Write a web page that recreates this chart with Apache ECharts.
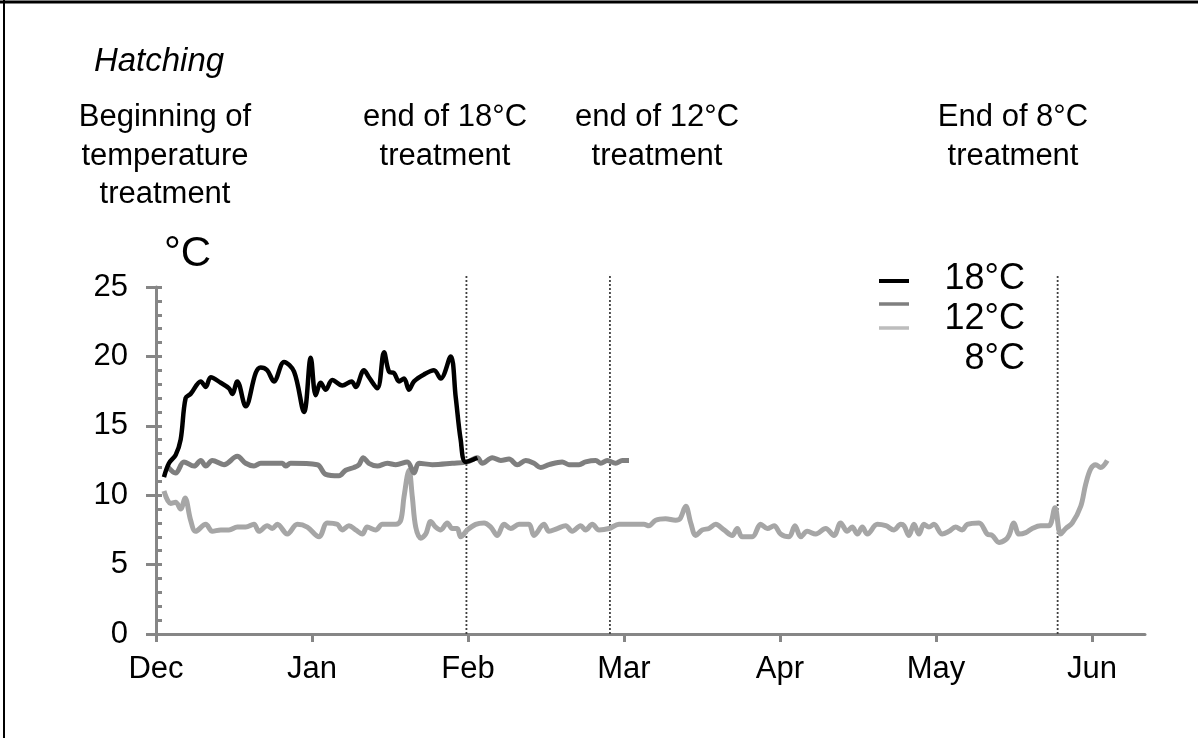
<!DOCTYPE html>
<html>
<head>
<meta charset="utf-8">
<script src="https://cdn.jsdelivr.net/npm/echarts@6/dist/echarts.min.js"></script>
<style>
html,body{margin:0;padding:0;background:#fff;}
#chart{width:1198px;height:738px;}
</style>
</head>
<body>
<div id="chart"></div>
<script>
// X positions are in months since 1 Dec (Dec = 0, Jan = 1, ...).
const monthLabels = ['Dec', 'Jan', 'Feb', 'Mar', 'Apr', 'May', 'Jun'];
const yTicks = [0, 5, 10, 15, 20, 25];

const x18 = [0.051,0.083,0.126,0.158,0.19,0.222,0.287,0.319,0.351,0.415,0.468,0.489,0.521,0.575,0.639,0.671,0.713,0.756,0.821,0.885,0.949,0.992,1.024,1.056,1.088,1.130,1.194,1.254,1.280,1.333,1.365,1.419,1.462,1.494,1.526,1.558,1.590,1.622,1.654,1.718,1.782,1.825,1.889,1.921,1.953,1.985,2.060];
const t18 = [11.3,12.3,12.9,14.0,17.0,17.3,18.2,17.8,18.5,18.1,17.7,17.3,18.2,16.4,18.8,19.2,19.0,18.2,19.6,18.9,16.0,19.9,17.2,18.1,17.6,18.3,17.9,18.2,17.8,19.0,18.5,17.7,20.3,18.9,18.8,18.2,18.4,17.6,18.2,18.7,19.0,18.4,20.0,17.1,14.0,12.4,12.7];

const x12 = [0.072,0.126,0.179,0.244,0.287,0.319,0.361,0.436,0.521,0.575,0.628,0.671,0.810,0.831,0.863,1.034,1.088,1.173,1.216,1.269,1.301,1.329,1.365,1.419,1.483,1.537,1.611,1.654,1.686,1.771,1.899,1.996,2.060,2.092,2.156,2.210,2.263,2.316,2.370,2.423,2.466,2.519,2.604,2.647,2.712,2.754,2.819,2.851,2.893,2.947,2.989,3.032];
const t12 = [12.1,11.6,12.4,12.1,12.5,12.1,12.5,12.2,12.8,12.3,12.1,12.3,12.3,12.1,12.3,12.2,11.5,11.4,11.8,12.0,12.2,12.7,12.3,12.1,12.3,12.2,12.4,11.6,12.3,12.2,12.3,12.4,12.7,12.3,12.7,12.5,12.6,12.2,12.5,12.3,12.0,12.2,12.4,12.2,12.2,12.4,12.5,12.3,12.5,12.3,12.5,12.5];

const x8 = [0.051,0.094,0.126,0.158,0.186,0.222,0.254,0.319,0.361,0.415,0.468,0.521,0.575,0.628,0.660,0.713,0.746,0.778,0.842,0.906,0.970,1.045,1.098,1.162,1.194,1.237,1.280,1.322,1.354,1.408,1.451,1.537,1.569,1.590,1.622,1.643,1.665,1.697,1.729,1.761,1.793,1.825,1.867,1.899,1.931,1.953,1.996,2.049,2.103,2.146,2.188,2.231,2.274,2.327,2.391,2.423,2.487,2.519,2.572,2.626,2.668,2.722,2.754,2.797,2.840,2.904,2.968,3.128,3.160,3.203,3.267,3.331,3.359,3.396,3.428,3.460,3.502,3.545,3.588,3.641,3.694,3.726,3.758,3.822,3.876,3.919,3.962,4.004,4.058,4.096,4.133,4.175,4.229,4.293,4.346,4.389,4.431,4.463,4.496,4.528,4.560,4.624,4.678,4.731,4.774,4.795,4.827,4.859,4.891,4.923,4.955,4.987,5.040,5.083,5.126,5.168,5.201,5.276,5.329,5.361,5.404,5.447,5.468,5.500,5.532,5.575,5.617,5.671,5.724,5.763,5.799,5.832,5.874,5.928,5.960,5.992,6.024,6.056,6.098];
const t8 = [10.3,9.4,9.5,9.0,9.8,8.2,7.4,7.9,7.4,7.5,7.5,7.7,7.7,7.9,7.4,7.8,7.6,7.9,7.2,7.9,7.7,7.0,8.0,7.9,7.5,7.8,7.5,7.2,7.7,7.5,7.9,7.9,8.2,9.9,11.8,9.9,7.7,6.9,7.2,8.1,7.7,7.5,8.0,7.6,7.6,7.0,7.5,7.9,8.0,7.7,7.1,7.9,7.6,7.9,7.9,7.1,7.9,7.4,7.6,7.8,7.4,7.8,7.5,7.9,7.5,7.6,7.9,7.9,7.8,8.2,8.3,8.2,8.3,9.2,8.0,7.1,7.5,7.6,7.9,7.5,7.1,7.6,7.0,7.0,7.9,7.6,7.8,7.2,7.0,7.8,7.0,7.4,7.2,7.6,7.1,8.0,7.4,7.7,7.2,7.7,7.2,7.9,7.8,7.5,7.9,7.8,7.1,7.9,7.2,7.9,7.7,7.9,7.2,7.4,7.7,7.5,7.9,8.0,7.2,7.1,6.6,6.8,7.1,8.0,7.2,7.3,7.6,7.8,7.8,9.1,7.2,7.6,8.0,9.2,10.8,11.9,12.2,12.0,12.5];

// Treatment events (months since 1 Dec)
const eventMonths = [1.99, 2.91, 5.78];

const seriesNames = ['18°C', '12°C', '8°C'];
const FONT = "'Liberation Sans', Arial, sans-serif";

function zip(xs, ys) { return xs.map((x, i) => [x, ys[i]]); }

const chart = echarts.init(document.getElementById('chart'), null, {renderer: 'canvas'});

const dotted = eventMonths.map(m => ({
  type: 'line', xAxisIndex: 0, yAxisIndex: 0, clip: false, silent: true,
  showSymbol: false, symbol: 'none', z: 1,
  data: [[m, 0], [m, 25.8]],
  lineStyle: {color: '#404040', width: 1.8, type: [2, 2]}
}));

const axisGray = '#868686';
const tickIdx = monthLabels.map((_, i) => i);

const option = {
  animation: false,
  backgroundColor: '#ffffff',
  grid: {left: 156, right: 53, top: 287, bottom: 104, containLabel: false, outerBoundsMode: 'none'},
  xAxis: {
    type: 'value', min: 0, max: 6.34, interval: 1,
    axisLine: {show: true, lineStyle: {color: axisGray, width: 3}},
    axisTick: {show: true, length: 8, inside: false, lineStyle: {color: axisGray, width: 3}, customValues: tickIdx},
    axisLabel: {
      color: '#000', fontFamily: FONT, fontSize: 31, margin: 20,
      customValues: tickIdx,
      formatter: v => (Math.abs(v - Math.round(v)) < 1e-6 && monthLabels[Math.round(v)]) ? monthLabels[Math.round(v)] : ''
    },
    splitLine: {show: false}
  },
  yAxis: [{
    type: 'value', min: 0, max: 25, interval: 5, position: 'left',
    axisLine: {show: true, onZero: false, lineStyle: {color: axisGray, width: 3}},
    axisTick: {show: true, length: 10, inside: false, lineStyle: {color: axisGray, width: 3}},
    axisLabel: {color: '#000', fontFamily: FONT, fontSize: 31, margin: 28,
      formatter: v => yTicks.indexOf(v) >= 0 ? String(v) : ''},
    splitLine: {show: false}
  }, {
    type: 'value', min: 0, max: 25, interval: 5, position: 'left', offset: 0,
    axisLine: {show: false},
    axisTick: {show: true, length: 6, inside: true, lineStyle: {color: axisGray, width: 3}},
    minorTick: {show: true, splitNumber: 5, length: 6, lineStyle: {color: axisGray, width: 3}},
    axisLabel: {show: false},
    splitLine: {show: false}
  }],
  series: [
    ...dotted,
    {name: seriesNames[2], type: 'line', data: zip(x8, t8), showSymbol: false, smooth: 0.35, z: 3,
     lineStyle: {color: '#a6a6a6', width: 5}},
    {name: seriesNames[1], type: 'line', data: zip(x12, t12), showSymbol: false, smooth: 0.35, z: 4,
     lineStyle: {color: '#7f7f7f', width: 5}},
    {name: seriesNames[0], type: 'line', data: zip(x18, t18), showSymbol: false, smooth: 0.35, z: 5,
     lineStyle: {color: '#000000', width: 4.5}}
  ],
  graphic: [
    // border (top and left)
    {type: 'line', shape: {x1: 0, y1: 2, x2: 1198, y2: 2}, style: {stroke: '#000', lineWidth: 3}},
    {type: 'line', shape: {x1: 4, y1: 0, x2: 4, y2: 738}, style: {stroke: '#000', lineWidth: 2}},
    // annotations
    {type: 'text', x: 159, y: 62, style: {text: 'Hatching', font: 'italic 33px ' + FONT, fill: '#000', align: 'center', verticalAlign: 'middle'}},
    {type: 'text', x: 165, y: 156, style: {text: 'Beginning of\ntemperature\ntreatment', font: '31px ' + FONT, fill: '#000', align: 'center', verticalAlign: 'middle', lineHeight: 38.5}},
    {type: 'text', x: 445, y: 137, style: {text: 'end of 18°C\ntreatment', font: '31px ' + FONT, fill: '#000', align: 'center', verticalAlign: 'middle', lineHeight: 38.5}},
    {type: 'text', x: 657, y: 137, style: {text: 'end of 12°C\ntreatment', font: '31px ' + FONT, fill: '#000', align: 'center', verticalAlign: 'middle', lineHeight: 38.5}},
    {type: 'text', x: 1013, y: 137, style: {text: 'End of 8°C\ntreatment', font: '31px ' + FONT, fill: '#000', align: 'center', verticalAlign: 'middle', lineHeight: 38.5}},
    {type: 'text', x: 164, y: 254, style: {text: '°C', font: '42px ' + FONT, fill: '#000', align: 'left', verticalAlign: 'middle'}},
    // legend
    {type: 'line', shape: {x1: 879, y1: 281, x2: 909, y2: 281}, style: {stroke: '#000', lineWidth: 4}},
    {type: 'line', shape: {x1: 879, y1: 304, x2: 909, y2: 304}, style: {stroke: '#7f7f7f', lineWidth: 3.5}},
    {type: 'line', shape: {x1: 879, y1: 328, x2: 909, y2: 328}, style: {stroke: '#bdbdbd', lineWidth: 3.5}},
    {type: 'text', x: 1025, y: 279, style: {text: seriesNames[0], font: '36px ' + FONT, fill: '#000', align: 'right', verticalAlign: 'middle'}},
    {type: 'text', x: 1025, y: 319, style: {text: seriesNames[1], font: '36px ' + FONT, fill: '#000', align: 'right', verticalAlign: 'middle'}},
    {type: 'text', x: 1025, y: 359, style: {text: seriesNames[2], font: '36px ' + FONT, fill: '#000', align: 'right', verticalAlign: 'middle'}}
  ]
};
chart.setOption(option);
</script>
</body>
</html>
